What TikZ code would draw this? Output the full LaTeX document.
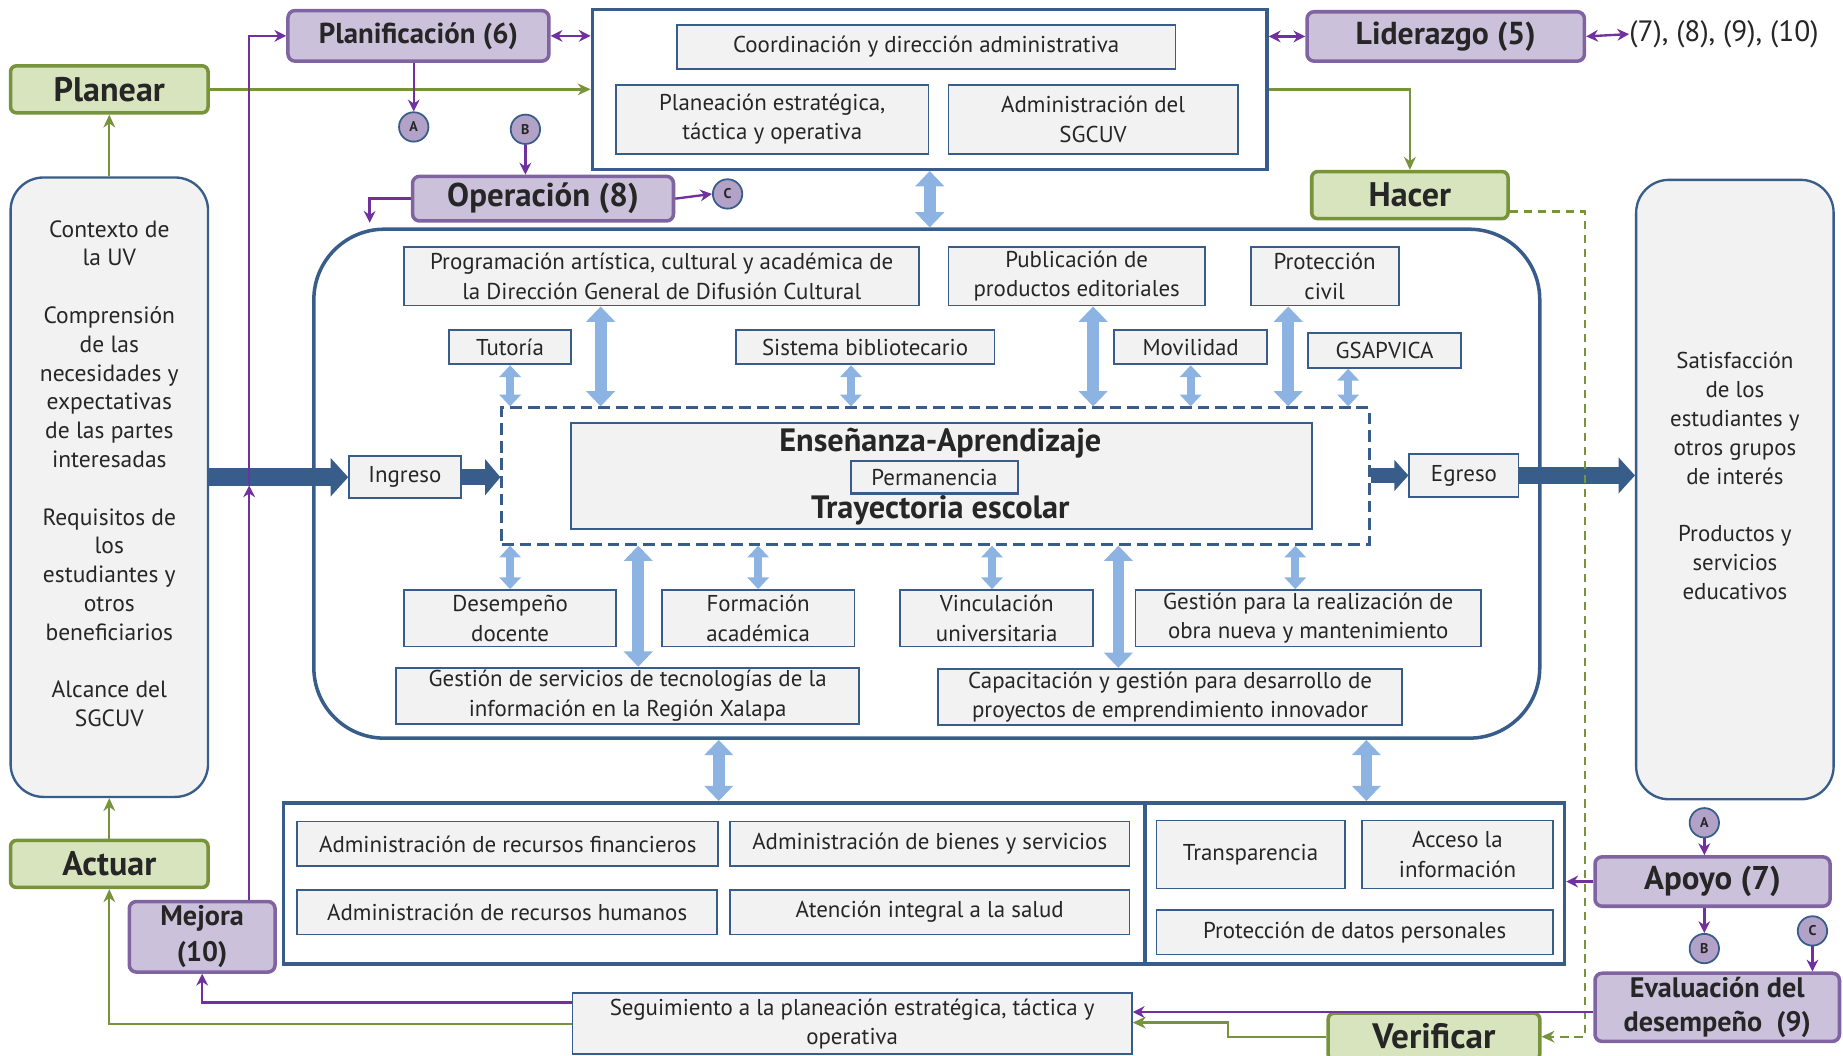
\documentclass[tikz,border=0pt]{standalone}
\usepackage{fontspec}
\setmainfont{PT Sans}
\usetikzlibrary{calc,arrows.meta}
\definecolor{azul}{RGB}{56,93,138}
\definecolor{azulclaro}{RGB}{141,179,226}
\definecolor{gris}{RGB}{242,242,242}
\definecolor{lila}{RGB}{204,193,218}
\definecolor{lilaborde}{RGB}{128,100,162}
\definecolor{morado}{RGB}{112,48,160}
\definecolor{verdeclaro}{RGB}{215,228,189}
\definecolor{verde}{RGB}{119,147,60}
\definecolor{circulo}{RGB}{179,162,199}
\definecolor{tinta}{RGB}{38,38,38}

\begin{document}
\begin{tikzpicture}[x=1pt,y=-1pt,
    caja/.style={draw=azul,line width=1.5pt,fill=gris,align=center,inner sep=0pt,text=tinta,font={\fontsize{19.5}{25}\selectfont}},
    marco/.style={draw=azul,line width=3pt,fill=white,inner sep=0pt},
    fase/.style={draw=verde,line width=3pt,fill=verdeclaro,rounded corners=5pt,inner sep=0pt,text=tinta,font={\fontsize{29}{30}\selectfont\bfseries}},
    proceso/.style={draw=lilaborde,line width=3pt,fill=lila,rounded corners=6pt,inner sep=0pt,align=center,text=tinta,font={\fontsize{26}{30}\selectfont\bfseries}},
    lado/.style={draw=azul,line width=2pt,fill=gris,rounded corners=28pt,inner sep=0pt},
    ladotexto/.style={align=center,inner sep=0pt,text=tinta,font={\fontsize{20}{24.5}\selectfont}},
    letra/.style={circle,draw=azul,line width=1.5pt,fill=circulo,minimum size=25pt,inner sep=0pt,text=tinta,font={\fontsize{12}{12}\selectfont\bfseries}},
    liga/.style={draw=morado,line width=2pt,-{Stealth[length=10pt,width=10pt]}},
    ligados/.style={draw=morado,line width=2pt,{Stealth[length=10pt,width=10pt]}-{Stealth[length=10pt,width=10pt]}},
    ciclo/.style={draw=verde,line width=2pt,-{Stealth[length=11pt,width=10pt]}},
    doble/.style={draw=azulclaro,line width=7pt,{Triangle[length=10pt,width=18pt]}-{Triangle[length=10pt,width=18pt]}},
    doblegrueso/.style={draw=azulclaro,line width=10pt,{Triangle[length=13pt,width=24pt]}-{Triangle[length=13pt,width=24pt]}},
    flujo/.style={draw=azul,line width=15pt,-{Triangle[length=15pt,width=32pt]}}]
    \useasboundingbox (0,0) rectangle (1568,898);

    \node[fase,minimum width=168,minimum height=40] (planear) at (93,76) {Planear};
    \node[lado,minimum width=168,minimum height=527] (contexto) at (93,414.5) {};
    \node[ladotexto] (contextotexto) at (93,403) {Contexto de\\la UV\\[24.5pt]Comprensión\\de las\\necesidades y\\expectativas\\de las partes\\interesadas\\[24.5pt]Requisitos de\\los\\estudiantes y\\otros\\beneficiarios\\[24.5pt]Alcance del\\SGCUV};
    \node[fase,minimum width=168,minimum height=40] (actuar) at (93,735) {Actuar};
    \node[proceso,minimum width=124,minimum height=60,font={\fontsize{24}{31}\selectfont\bfseries}] (mejora) at (172,797) {Mejora\\(10)};

    \node[proceso,minimum width=222,minimum height=43,font={\fontsize{24.5}{30}\selectfont\bfseries}] (planif) at (356,30.5) {Planificación (6)};
    \node[marco,minimum width=574,minimum height=136] (admin) at (791,76) {};
    \node[caja,minimum width=424,minimum height=38] (coord) at (788,40) {Coordinación y dirección administrativa};
    \node[caja,minimum width=266,minimum height=59] (planea) at (657,101.5) {Planeación estratégica,\\táctica y operativa};
    \node[caja,minimum width=246,minimum height=59] (sgcuv) at (930,101.5) {Administración del\\SGCUV};
    \node[proceso,minimum width=236,minimum height=42,font={\fontsize{27}{30}\selectfont\bfseries}] (lider) at (1230,31) {Liderazgo (5)};
    \node[text=tinta,anchor=west,inner sep=0pt,font={\fontsize{25}{28}\selectfont}] (otros) at (1386,29) {(7), (8), (9), (10)};
    \node[letra] (a1) at (352,108) {A};
    \node[letra] (b1) at (447,110) {B};
    \node[proceso,minimum width=222,minimum height=38,font={\fontsize{28}{30}\selectfont\bfseries}] (oper) at (462,169) {Operación (8)};
    \node[letra] (c1) at (619,165) {C};
    \node[fase,minimum width=167,minimum height=40] (hacer) at (1199.5,166) {Hacer};

    \node[draw=azul,line width=3pt,rounded corners=60pt,minimum width=1043,minimum height=433] (grande) at (788.5,411.5) {};
    \node[caja,minimum width=438,minimum height=50] (prog) at (563,235) {Programación artística, cultural y académica de\\la Dirección General de Difusión Cultural};
    \node[caja,minimum width=218,minimum height=50] (publ) at (916,235) {Publicación de\\productos editoriales};
    \node[caja,minimum width=126,minimum height=50] (protc) at (1127,235) {Protección\\civil};
    \node[caja,minimum width=104,minimum height=29] (tutoria) at (434,295.5) {Tutoría};
    \node[caja,minimum width=220,minimum height=29] (sisbib) at (736,295.5) {Sistema bibliotecario};
    \node[caja,minimum width=130,minimum height=29] (movil) at (1013,295.5) {Movilidad};
    \node[caja,minimum width=130,minimum height=30] (gsap) at (1178,298) {GSAPVICA};

    \node[draw=azul,line width=2.5pt,dash pattern=on 10pt off 5pt,minimum width=738,minimum height=116] (trayec) at (796,405) {};
    \node[caja,minimum width=630,minimum height=90] (ensen) at (801,405) {};
    \node[text=tinta,font={\fontsize{27.5}{30}\selectfont\bfseries}] (ea) at (800,377) {Enseñanza-Aprendizaje};
    \node[caja,line width=2pt,minimum width=142,minimum height=28] (perman) at (795,406) {Permanencia};
    \node[text=tinta,font={\fontsize{27.5}{30}\selectfont\bfseries}] (te) at (800,434) {Trayectoria escolar};
    \node[caja,minimum width=95,minimum height=36] (ingreso) at (344.5,406) {Ingreso};
    \node[caja,minimum width=93,minimum height=37] (egreso) at (1245.5,404.5) {Egreso};
    \node[lado,minimum width=168,minimum height=527] (satisf) at (1476,416.5) {};
    \node[ladotexto,font={\fontsize{19.5}{24.5}\selectfont}] (satisftexto) at (1476,405) {Satisfacción\\de los\\estudiantes y\\otros grupos\\de interés\\[24.5pt]Productos y\\servicios\\educativos};

    \node[caja,minimum width=180,minimum height=48] (desemp) at (434,526) {Desempeño\\docente};
    \node[caja,minimum width=164,minimum height=48] (formac) at (645,526) {Formación\\académica};
    \node[caja,minimum width=164,minimum height=48] (vincul) at (848,526) {Vinculación\\universitaria};
    \node[caja,minimum width=294,minimum height=48] (obra) at (1113,526) {Gestión para la realización de\\obra nueva y mantenimiento};
    \node[caja,minimum width=394,minimum height=48] (tic) at (534,592) {Gestión de servicios de tecnologías de la\\información en la Región Xalapa};
    \node[caja,minimum width=395,minimum height=48] (capac) at (995.5,593) {Capacitación y gestión para desarrollo de\\proyectos de emprendimiento innovador};

    \node[marco,minimum width=733,minimum height=137] (abajoizq) at (607.5,751.5) {};
    \node[marco,minimum width=357,minimum height=137] (abajoder) at (1152.5,751.5) {};
    \node[caja,minimum width=358,minimum height=38] (financ) at (432,718) {Administración de recursos financieros};
    \node[caja,minimum width=340,minimum height=38] (bienes) at (791,718) {Administración de bienes y servicios};
    \node[caja,minimum width=357,minimum height=38] (humanos) at (431.5,776) {Administración de recursos humanos};
    \node[caja,minimum width=340,minimum height=38] (salud) at (791,776) {Atención integral a la salud};
    \node[caja,minimum width=160,minimum height=58] (transp) at (1064,727) {Transparencia};
    \node[caja,minimum width=162,minimum height=58] (acceso) at (1240,727) {Acceso la\\información};
    \node[caja,minimum width=337,minimum height=38] (datos) at (1152.5,793) {Protección de datos personales};

    \node[letra] (a2) at (1450,700) {A};
    \node[proceso,minimum width=200,minimum height=42,font={\fontsize{28}{30}\selectfont\bfseries}] (apoyo) at (1457,750) {Apoyo (7)};
    \node[letra] (b2) at (1450,807) {B};
    \node[letra] (c2) at (1542,792) {C};
    \node[proceso,minimum width=208,minimum height=58,font={\fontsize{24}{29}\selectfont\bfseries}] (evalua) at (1461,857) {Evaluación del\\desempeño\ \ (9)};
    \node[caja,minimum width=476,minimum height=52] (segui) at (725,871) {Seguimiento a la planeación estratégica, táctica y\\operativa};
    \node[fase,minimum width=180,minimum height=40,font={\fontsize{30}{30}\selectfont\bfseries}] (verif) at (1220,882) {Verificar};

    \draw[flujo] (contexto.east |- ingreso) -- (ingreso.west);
    \draw[flujo,line width=14pt,-{Triangle[length=13pt,width=30pt]}] (ingreso.east) -- (ingreso.east -| trayec.west);
    \draw[flujo,line width=12pt,-{Triangle[length=12pt,width=26pt]}] (trayec.east |- egreso) -- (egreso.west);
    \draw[flujo,line width=14pt,-{Triangle[length=14pt,width=30pt]}] (egreso.east) -- (egreso.east -| satisf.west);

    \draw[doblegrueso] (admin.south) -- (admin.south |- grande.north);
    \draw[doble] (tutoria.south) -- (tutoria.south |- trayec.north);
    \draw[doblegrueso] ([xshift=-52pt]prog.south) -- ([xshift=-52pt]prog.south |- trayec.north);
    \draw[doble] ([xshift=-12pt]sisbib.south) -- ([xshift=-12pt]sisbib.south |- trayec.north);
    \draw[doblegrueso] ([xshift=14pt]publ.south) -- ([xshift=14pt]publ.south |- trayec.north);
    \draw[doble] (movil.south) -- (movil.south |- trayec.north);
    \draw[doblegrueso] ([xshift=-31pt]protc.south) -- ([xshift=-31pt]protc.south |- trayec.north);
    \draw[doble] ([xshift=-31pt]gsap.south) -- ([xshift=-31pt]gsap.south |- trayec.north);
    \draw[doble] (desemp.north) -- (desemp.north |- trayec.south);
    \draw[doblegrueso] ([xshift=9pt]tic.north) -- ([xshift=9pt]tic.north |- trayec.south);
    \draw[doble] (formac.north) -- (formac.north |- trayec.south);
    \draw[doble] ([xshift=-4pt]vincul.north) -- ([xshift=-4pt]vincul.north |- trayec.south);
    \draw[doblegrueso] ([xshift=-44pt]capac.north) -- ([xshift=-44pt]capac.north |- trayec.south);
    \draw[doble] ([xshift=-11pt]obra.north) -- ([xshift=-11pt]obra.north |- trayec.south);
    \draw[doblegrueso] ([xshift=4pt]abajoizq.north) -- ([xshift=4pt]abajoizq.north |- grande.south);
    \draw[doblegrueso] ([xshift=10pt]abajoder.north) -- ([xshift=10pt]abajoder.north |- grande.south);

    \draw[ciclo] (contexto.north) -- (planear.south);
    \draw[ciclo] (actuar.north) -- (contexto.south);
    \draw[ciclo] (planear.east) -- (planear.east -| admin.west);
    \draw[ciclo] (admin.east) -| (hacer.north);
    \draw[ciclo,dashed,dash pattern=on 7pt off 5pt] ([yshift=-14pt]hacer.east) -- ++(64,0) |- (verif.east);
    \draw[ciclo] (verif.west) -- ++(-84,0) |- ([yshift=1pt]segui.east);
    \draw[ciclo] (segui.west) -| (actuar.south);

    \coordinate (cruce) at (212,413);
    \draw[liga] ([yshift=-4pt]evalua.west) -- ([yshift=-4pt]evalua.west -| segui.east);
    \draw[liga] ([yshift=18pt]segui.west) -| (mejora.south);
    \draw[liga] ([xshift=40pt]mejora.north) -- (cruce);
    \draw[liga] (cruce) |- (planif.west);
    \draw[ligados] (planif.east) -- (planif.east -| admin.west);
    \draw[ligados] (lider.west -| admin.east) -- (lider.west);
    \draw[ligados] (lider.east) -- (otros.west);
    \draw[liga] (a1 |- planif.south) -- (a1.north);
    \draw[liga] (b1.south) -- (b1 |- oper.north);
    \draw[liga] (oper.east) -- (c1.west);
    \draw[liga] (oper.west) -| ([xshift=49pt,yshift=4pt]grande.north west);
    \draw[liga] (a2.south) -- (a2 |- apoyo.north);
    \draw[liga] (b2 |- apoyo.south) -- (b2.north);
    \draw[liga] (c2.south) -- (c2 |- evalua.north);
    \draw[liga] (apoyo.west) -- (apoyo.west -| abajoder.east);
\end{tikzpicture}
\end{document}
